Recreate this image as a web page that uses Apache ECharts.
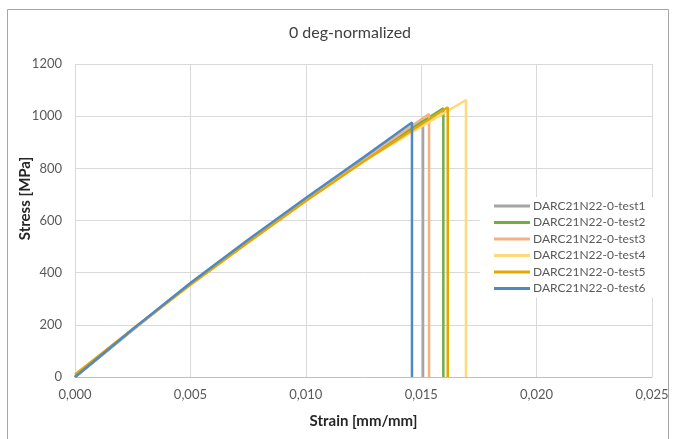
<!DOCTYPE html>
<html lang="en" style="height: 100%">
<head>
  <meta charset="utf-8">
</head>
<body style="height: 100%; margin: 0; background: #fff">
  <div id="container" style="width: 673px; height: 439px"></div>

  <script type="text/javascript" src="https://cdn.jsdelivr.net/npm/echarts@6/dist/echarts.min.js"></script>

  <script type="text/javascript">
    var dom = document.getElementById('container');
    var myChart = echarts.init(dom, null, { renderer: 'canvas' });

    // test names and colours (Excel palette)
    var testNames = [
      'DARC21N22-0-test1', 'DARC21N22-0-test2', 'DARC21N22-0-test3',
      'DARC21N22-0-test4', 'DARC21N22-0-test5', 'DARC21N22-0-test6'
    ];
    var testColors = ['#a5a5a5', '#70ad47', '#f4b183', '#ffd97a', '#e6a800', '#4e89c6'];

    // [strain, stress]
    var test1 = [[0, 0], [0.0025, 182], [0.005, 358], [0.0075, 523], [0.010, 683], [0.0125, 836], [0.01508, 985], [0.01508, 0]];
    var test2 = [[0, 0], [0.0025, 180], [0.005, 356], [0.0075, 521], [0.010, 681], [0.0125, 835], [0.01596, 1030], [0.01596, 0]];
    var test3 = [[0, 0], [0.0025, 181], [0.005, 357], [0.0075, 522], [0.010, 682], [0.0125, 836], [0.01534, 1008], [0.01534, 0]];
    var test4 = [[0, 6], [0.0025, 182], [0.005, 354], [0.0075, 517], [0.010, 676], [0.0125, 826], [0.015, 960], [0.01694, 1062], [0.01694, 0]];
    var test5 = [[0, 10], [0.0025, 184], [0.005, 354], [0.0075, 516], [0.010, 675], [0.0125, 826], [0.01615, 1034], [0.01615, 0]];
    var test6 = [[0, 0], [0.0025, 183], [0.005, 360], [0.0075, 526], [0.010, 686], [0.0125, 842], [0.0146, 976], [0.0146, 0]];
    var testData = [test1, test2, test3, test4, test5, test6];

    var FONT = 'Lato, "Liberation Sans", sans-serif';

    var series = testNames.map(function (name, i) {
      return {
        name: name,
        type: 'line',
        data: testData[i],
        showSymbol: false,
        symbol: 'none',
        color: testColors[i],
        lineStyle: { width: 2.5, color: testColors[i] }
      };
    });

    var option = {
      animation: false,
      backgroundColor: '#fff',
      title: {
        text: '0 deg-normalized',
        left: 345,
        top: 20,
        textAlign: 'center',
        textStyle: { fontFamily: FONT, fontSize: 16, fontWeight: 'normal', color: '#404040' }
      },
      grid: { left: 75, right: 21, top: 64, bottom: 62 },
      legend: {
        orient: 'vertical',
        left: 480,
        top: 197,
        width: 170,
        padding: [3, 22, 3, 14],
        itemGap: 4.5,
        itemWidth: 36,
        itemHeight: 3,
        icon: 'rect',
        backgroundColor: '#fff',
        data: testNames,
        textStyle: { fontFamily: FONT, fontSize: 12, color: '#595959', padding: [0, 0, 0, -2] }
      },
      xAxis: {
        type: 'value',
        min: 0,
        max: 0.025,
        interval: 0.005,
        name: 'Strain [mm/mm]',
        nameLocation: 'middle',
        nameGap: 37,
        nameTextStyle: { fontFamily: FONT, fontSize: 15, fontWeight: 'bold', color: '#262626' },
        axisLine: { lineStyle: { color: '#bfbfbf', width: 1 } },
        axisTick: { show: false },
        axisLabel: {
          margin: 11,
          fontFamily: FONT, fontSize: 13, color: '#595959',
          formatter: function (v) { return v.toFixed(3).replace('.', ','); }
        },
        splitLine: { show: true, showMinLine: true, showMaxLine: true, lineStyle: { color: '#d9d9d9', width: 1 } }
      },
      yAxis: {
        type: 'value',
        min: 0,
        max: 1200,
        interval: 200,
        name: 'Stress [MPa]',
        nameLocation: 'middle',
        nameGap: 42,
        nameMoveOverlap: false,
        nameTextStyle: { fontFamily: FONT, fontSize: 15, fontWeight: 'bold', color: '#262626', padding: [0, 0, 0, 44] },
        axisLine: { show: false },
        axisTick: { show: false },
        axisLabel: {
          margin: 13, fontFamily: FONT, fontSize: 13, color: '#595959',
          formatter: function (v) { return String(v); }
        },
        splitLine: { show: true, lineStyle: { color: '#d9d9d9', width: 1 } }
      },
      graphic: [{
        type: 'rect',
        z: -10,
        shape: { x: 7.5, y: 9.5, width: 661, height: 440 },
        style: { fill: 'none', stroke: '#a6a6a6', lineWidth: 1 }
      }],
      series: series
    };

    myChart.setOption(option);
    window.addEventListener('resize', myChart.resize);
  </script>
</body>
</html>
